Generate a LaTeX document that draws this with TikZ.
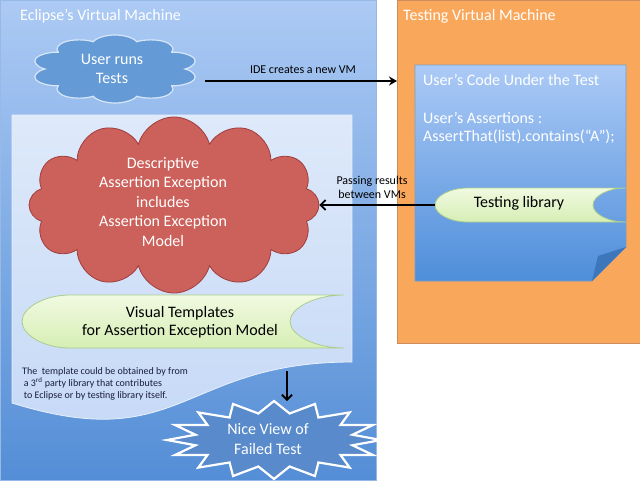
\documentclass[tikz,border=0pt]{standalone}
\usepackage{fontspec}
\setmainfont{Carlito}
\usetikzlibrary{shapes.symbols,arrows.meta,calc}
\definecolor{evmTop}{RGB}{172,202,244}
\definecolor{evmBot}{RGB}{84,142,214}
\definecolor{evmLine}{RGB}{150,185,230}
\definecolor{tvmFill}{RGB}{249,167,90}
\definecolor{tvmLine}{RGB}{205,140,95}
\definecolor{docTop}{RGB}{172,202,246}
\definecolor{docBot}{RGB}{78,142,218}
\definecolor{docLine}{RGB}{120,160,205}
\definecolor{foldC}{RGB}{62,118,188}
\definecolor{waveTop}{RGB}{222,233,250}
\definecolor{waveBot}{RGB}{196,216,246}
\definecolor{waveLine}{RGB}{232,240,252}
\definecolor{redFill}{RGB}{204,96,90}
\definecolor{redLine}{RGB}{160,62,62}
\definecolor{blueCloud}{RGB}{100,155,214}
\definecolor{blueCloudLine}{RGB}{215,230,248}
\definecolor{greenTop}{RGB}{240,250,225}
\definecolor{greenBot}{RGB}{214,238,180}
\definecolor{greenLine}{RGB}{170,205,140}
\definecolor{starFill}{RGB}{88,138,204}
\definecolor{noteC}{RGB}{25,30,60}
\begin{document}
\begin{tikzpicture}[x=1pt,y=-1pt,
  title/.style={anchor=west,text=white,font=\fontsize{16}{19}\selectfont,inner sep=0pt},
  bigtext/.style={text=white,font=\fontsize{16}{19.5}\selectfont,align=center,inner sep=0pt},
  lbl/.style={font=\fontsize{12}{14}\selectfont,align=center,inner sep=0pt},
  scrolltext/.style={font=\fontsize{16}{18}\selectfont,align=center,inner sep=0pt},
  scroll/.style={top color=greenTop,bottom color=greenBot,draw=greenLine,line width=0.8pt},
  arr/.style={draw=black,line width=2pt,-{Stealth[length=8pt,width=9pt]}},
  arrb/.style={draw=black,line width=1.8pt,-{Straight Barb[length=5pt,width=10pt]}}]
\useasboundingbox (0,0) rectangle (640,480);

% Eclipse VM
\node[anchor=north west,minimum width=376pt,minimum height=480pt,inner sep=0pt,outer sep=0pt,
      top color=evmTop,bottom color=evmBot,draw=evmLine,line width=0.8pt] (evm) at (0,0) {};
\node[title] (evmT) at (20,16) {Eclipse’s Virtual Machine};

% Testing VM
\node[anchor=north west,minimum width=243pt,minimum height=343pt,inner sep=0pt,outer sep=0pt,
      fill=tvmFill,draw=tvmLine,line width=0.8pt] (tvm) at (397,0) {};
\node[title] (tvmT) at (403,16) {Testing Virtual Machine};

% document with folded corner
\path[top color=docTop,bottom color=docBot,draw=docLine,line width=0.6pt]
  (415,65) -- (626,65) -- (626,247) -- (592,281) -- (415,281) -- cycle;
\path[fill=foldC] (626,247) -- (598,256) -- (592,281) -- cycle;
\node[anchor=west,text=white,font=\fontsize{16}{19}\selectfont,inner sep=0pt] (code) at (423,80) {User’s Code Under the Test};
\node[anchor=west,text=white,font=\fontsize{16}{19}\selectfont,inner sep=0pt] (asrt1) at (423,118) {User’s Assertions :};
\node[anchor=west,text=white,font=\fontsize{16}{19}\selectfont,inner sep=0pt] (asrt2) at (423,137) {AssertThat(list).contains(“A”);};

% testing library scroll
\path[scroll] (468,188) -- (626,188) .. controls (608,188) and (593,196) .. (593,205)
  .. controls (593,214) and (608,222) .. (626,222) -- (468,222)
  .. controls (450,222) and (435,214) .. (435,205) .. controls (435,196) and (450,188) .. (468,188) -- cycle;
\coordinate (tlibW) at (435,205);
\node[scrolltext] (tlib) at (519,203) {Testing library};

% wave document
\path[top color=waveTop,bottom color=waveBot,draw=waveLine,line width=0.8pt]
  (12,115) -- (352,115) -- (352,362) .. controls (182,362) and (182,456) .. (12,403) -- cycle;

% blue cloud
\node[cloud,cloud puffs=10,aspect=1,minimum width=68pt,minimum height=68pt,inner sep=0pt,
      xscale=2.45,transform shape,
      fill=blueCloud,draw=blueCloudLine,line width=1.2pt] (userC) at (115,69) {};
\node[bigtext] (user) at (112,69) {User runs\\Tests};

% red cloud
\node[cloud,cloud puffs=12,cloud ignores aspect,minimum width=290pt,minimum height=176pt,
      fill=redFill,draw=redLine,line width=0.8pt] (descC) at (174,205) {};
\node[bigtext] (desc) at (163,202) {Descriptive\\Assertion Exception\\includes\\Assertion Exception\\Model};

% visual templates scroll
\path[scroll] (70,295) -- (344,295) .. controls (315,295) and (290,308) .. (290,321.5)
  .. controls (290,335) and (315,348) .. (344,348) -- (70,348)
  .. controls (44,348) and (22,335) .. (22,321.5) .. controls (22,308) and (44,295) .. (70,295) -- cycle;
\node[scrolltext] (vt) at (180,322) {Visual Templates\\for Assertion Exception Model};

% note
\node[anchor=north west,align=left,text=noteC,font=\fontsize{10}{12.4}\selectfont,inner sep=0pt] (note) at (22,367)
  {The~ template could be obtained by from\\ \,a 3\textsuperscript{rd} party library that contributes\\ \,to Eclipse or by testing library itself.};

% starburst
\path[fill=starFill,draw=white,line width=2.2pt,line join=miter,miter limit=10]
  (381,440) \foreach \a in {0,22.5,...,337.5} {
    -- ({274+80*cos(\a+11.25)},{440+27*sin(\a+11.25)})
    -- ({274+107*cos(\a+22.5)},{440+39*sin(\a+22.5)}) } -- cycle;
\node[bigtext,font=\fontsize{16}{20}\selectfont] (star) at (268,439) {Nice View of\\Failed Test};

% connectors
\coordinate (ideS) at (205,81);
\draw[arr] (ideS) -- (ideS -| tvm.west);
\node[lbl] (ideL) at (303,70) {IDE creates a new VM};

\draw[arrb] (tlibW) -- (tlibW -| descC.east);
\node[lbl] (passL) at (372,187) {Passing results\\between VMs};

\coordinate (dnS) at (287,371);
\coordinate (dnE) at (287,401);
\draw[arrb] (dnS) -- (dnE);
\end{tikzpicture}
\end{document}
